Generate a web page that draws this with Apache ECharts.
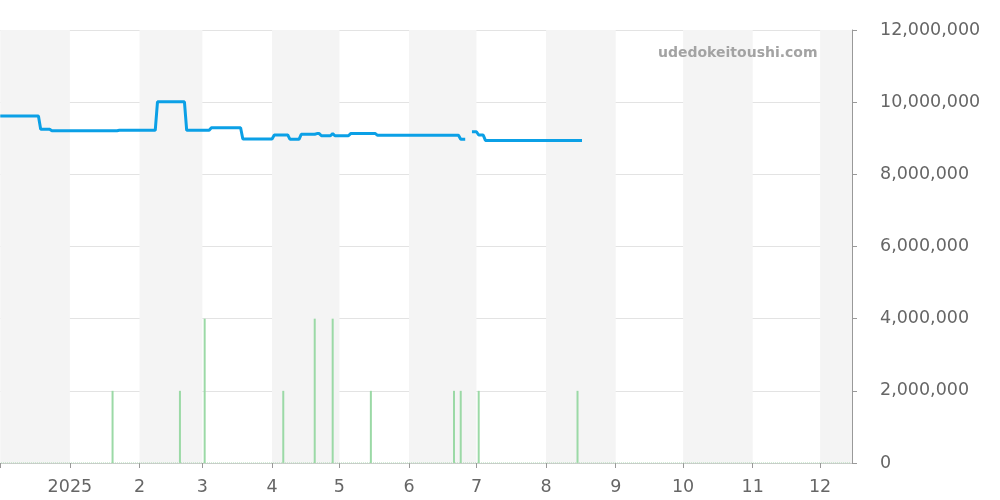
<!DOCTYPE html>
<html><head><meta charset="utf-8">
<script src="https://cdn.jsdelivr.net/npm/echarts@6/dist/echarts.min.js"></script>
<style>html,body{margin:0;padding:0;background:#fff}#c{width:1000px;height:500px}</style>
</head><body><div id="c"></div>
<script>
// price line: [date, price] (null = no data)
const priceDates = ['2024-12-01','2024-12-18','2024-12-19','2024-12-23','2024-12-24','2025-01-22','2025-01-23','2025-02-08','2025-02-09','2025-02-21','2025-02-22','2025-03-04','2025-03-05','2025-03-18','2025-03-19','2025-04-01','2025-04-02','2025-04-08','2025-04-09','2025-04-13','2025-04-14','2025-04-20','2025-04-21','2025-04-22','2025-04-23','2025-04-27','2025-04-28','2025-04-29','2025-05-05','2025-05-06','2025-05-17','2025-05-18','2025-06-23','2025-06-24','2025-06-26','2025-06-27','2025-06-29','2025-07-01','2025-07-02','2025-07-04','2025-07-05','2025-08-17'];
const priceValues = [9620000,9620000,9250000,9250000,9210000,9210000,9220000,9220000,10010000,10010000,9220000,9220000,9290000,9290000,8980000,8980000,9090000,9090000,8970000,8970000,9110000,9110000,9130000,9130000,9070000,9070000,9130000,9070000,9070000,9130000,9130000,9080000,9080000,8970000,8970000,null,9180000,9180000,9090000,9090000,8940000,8940000];
// volume bars
const volDates = ['2025-01-20','2025-02-19','2025-03-02','2025-04-06','2025-04-20','2025-04-28','2025-05-15','2025-06-21','2025-06-24','2025-07-02','2025-08-15'];
const volValues = [1,1,2,1,2,2,1,1,1,1,1];
// shaded months [start, end]
const shadedStarts = ['2024-12-01','2025-02-01','2025-04-01','2025-06-01','2025-08-01','2025-10-01','2025-12-01'];
const shadedEnds   = ['2025-01-01','2025-03-01','2025-05-01','2025-07-01','2025-09-01','2025-11-01','2026-01-01'];
const yTicks = [0,2000000,4000000,6000000,8000000,10000000,12000000];
const axisMin = '2024-12-01 08:00';
const axisMax = '2025-12-14 18:00';
const zeroLine = [[axisMin,0],[axisMax,0]];

const chart = echarts.init(document.getElementById('c'));
const font = 'DejaVu Sans';
chart.setOption({
  animation:false,
  textStyle:{fontFamily:font},
  graphic:[{type:'text', z:100, zlevel:1, left:658, top:46, style:{text:'udedokeitoushi.com', font:'bold 14px "DejaVu Sans"', fill:'#a3a3a3'}}],
  grid:{left:0,right:148,top:30,bottom:37,containLabel:false,outerBoundsMode:'none'},
  xAxis:{type:'time', min:axisMin, max:axisMax, splitNumber:12,
    minInterval:28*86400000, maxInterval:31*86400000,
    axisLine:{show:true,lineStyle:{color:'#ccc'}},
    axisTick:{show:true,length:5,lineStyle:{color:'#999'}},
    splitLine:{show:false},
    axisLabel:{fontSize:17.5,color:'#666',margin:15,showMinLabel:false,
      formatter:function(v){const d=new Date(v);if(d.getFullYear()<2025)return '';return d.getMonth()===0?String(d.getFullYear()):String(d.getMonth()+1);}}},
  yAxis:[{type:'value', position:'right', min:yTicks[0], max:yTicks[yTicks.length-1], interval:2000000,
    axisLine:{show:true,lineStyle:{color:'#999'}},
    axisTick:{show:true,length:5,lineStyle:{color:'#999'}},
    splitLine:{lineStyle:{color:'#e3e3e3'}},
    axisLabel:{fontSize:17.5,color:'#666',margin:28,padding:[4,0,0,0],formatter:function(v){return v.toLocaleString('en-US');}}},
    {type:'value', min:0, max:6, show:false}],
  series:[
    {type:'line', yAxisIndex:1, data:zeroLine, symbol:'none', silent:true,
     lineStyle:{color:'#a8dcb0',width:1,type:'dotted'},
     markArea:{silent:true, itemStyle:{color:'#f4f4f4'},
       data:shadedStarts.map((s,i)=>[{xAxis:s},{xAxis:shadedEnds[i]}])}},
    {type:'bar', yAxisIndex:1, data:volDates.map((d,i)=>[d,volValues[i]]), barWidth:2,
     itemStyle:{color:'#9bd9a6'}},
    {type:'line', yAxisIndex:0, data:priceDates.map((d,i)=>[d,priceValues[i]]), symbol:'none', connectNulls:false,
     lineStyle:{color:'#0ba0e6',width:3}, itemStyle:{color:'#0ba0e6'}}
  ]
});
</script></body></html>
